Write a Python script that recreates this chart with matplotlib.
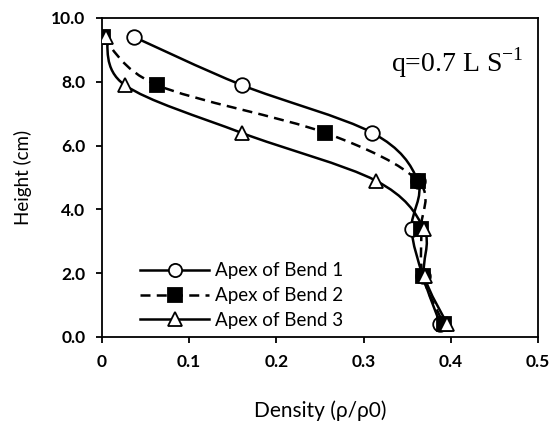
import matplotlib.pyplot as plt
from matplotlib.path import Path
from matplotlib.patches import PathPatch
from matplotlib.lines import Line2D

# heights of measurement (cm)
height = [9.4, 7.9, 6.4, 4.9, 3.4, 1.9, 0.4]

# density profiles (rho/rho0) at each apex
bend1 = [0.037, 0.160, 0.310, 0.362, 0.355, 0.368, 0.388]
bend2 = [0.001, 0.063, 0.256, 0.362, 0.366, 0.368, 0.392]
bend3 = [0.005, 0.026, 0.160, 0.314, 0.369, 0.370, 0.396]

labels = ['Apex of Bend 1', 'Apex of Bend 2', 'Apex of Bend 3']
xticks = [0, 0.1, 0.2, 0.3, 0.4, 0.5]
xticklabels = ['0', '0.1', '0.2', '0.3', '0.4', '0.5']
yticks = [0, 2, 4, 6, 8, 10]

plt.rcParams['font.family'] = ['Lato', 'DejaVu Sans']


def smooth_path(xs, ys):
    # Catmull-Rom style bezier through the points (like Excel smoothed lines)
    pts = list(zip(xs, ys))
    n = len(pts)
    verts = [pts[0]]
    codes = [Path.MOVETO]
    for i in range(n - 1):
        p0 = pts[i - 1] if i > 0 else pts[i]
        p1 = pts[i]
        p2 = pts[i + 1]
        p3 = pts[i + 2] if i + 2 < n else pts[i + 1]
        c1 = (p1[0] + (p2[0] - p0[0]) / 6, p1[1] + (p2[1] - p0[1]) / 6)
        c2 = (p2[0] - (p3[0] - p1[0]) / 6, p2[1] - (p3[1] - p1[1]) / 6)
        verts += [c1, c2, p2]
        codes += [Path.CURVE4] * 3
    return Path(verts, codes)


fig = plt.figure(figsize=(5.5, 4.24), dpi=100)
ax = fig.add_axes([0.1855, 0.2052, 0.7927, 0.7524])

series = [
    (bend1, '-', 'o', 'white'),
    (bend2, (0, (4, 2.5)), 's', 'black'),
    (bend3, '-', '^', 'white'),
]
handles = []
for (dens, ls, mk, fc), lab in zip(series, labels):
    ax.add_patch(PathPatch(smooth_path(dens, height), fill=False,
                           lw=1.8, ls=ls, ec='black', zorder=2))
    ax.plot(dens, height, ls='none', marker=mk, ms=10.5, mfc=fc,
            mec='black', mew=1.3, zorder=3)
    handles.append(Line2D([], [], color='black', lw=1.8, ls=ls, marker=mk,
                          ms=9.5, mfc=fc, mec='black', mew=1.3))

ax.set_xlim(0, 0.5)
ax.set_ylim(0, 10)
ax.set_xticks(xticks)
ax.set_xticklabels(xticklabels)
ax.set_yticks(yticks)
ax.set_yticklabels(['%.1f' % v for v in yticks])
for lab in ax.get_xticklabels() + ax.get_yticklabels():
    lab.set_fontweight('bold')
    lab.set_fontsize(12.5)
ax.tick_params(direction='out', length=4, width=1.3, pad=8)
for sp in ax.spines.values():
    sp.set_linewidth(1.3)

ax.set_xlabel('Density (ρ/ρ0)', fontsize=15, labelpad=22)
ax.set_ylabel('Height (cm)', fontsize=13.5, labelpad=14)

ax.text(0.966, 0.859, r'q=0.7 L S$^{\mathregular{-1}}$', transform=ax.transAxes,
        ha='right', va='center', fontsize=20, family='Liberation Serif')

ax.legend(handles, labels, loc='lower left', bbox_to_anchor=(0.087, 0.025),
          borderaxespad=0, borderpad=0, frameon=False, fontsize=13.5,
          handlelength=3.7, handletextpad=0.32, labelspacing=0.42)

fig.savefig('out.png', dpi=100)
